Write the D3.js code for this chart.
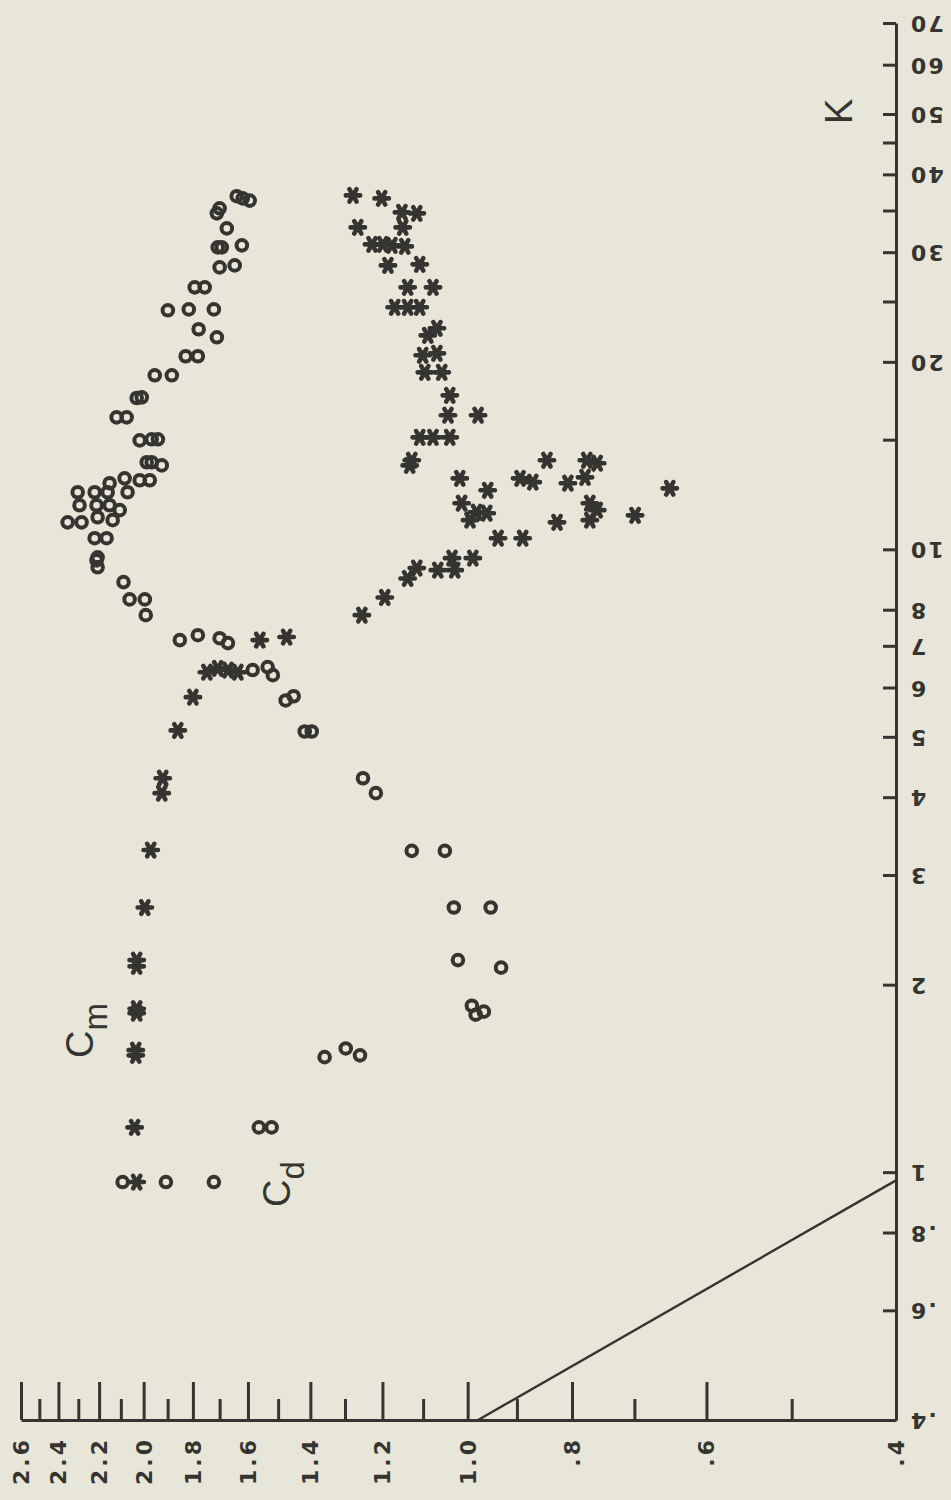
<!DOCTYPE html>
<html>
<head>
<meta charset="utf-8">
<script src="https://cdn.jsdelivr.net/npm/d3@7"></script>
<style>
  html, body { margin: 0; padding: 0; background: #e8e6d8; }
  svg { display: block; }
</style>
</head>
<body>
<svg id="chart" width="951" height="1500"></svg>
<script>
// Drag (Cd, circles) and inertia (Cm, asterisks) coefficients against K,
// log-log, drawn in landscape: K runs up the right edge, C runs along the bottom.

const cdK = [0.964, 0.964, 0.964, 1.18, 1.18, 1.53, 1.58, 1.54, 1.85, 1.81,
  1.79, 2.19, 2.13, 2.66, 2.66, 3.28, 3.28, 4.29, 4.06, 5.10,
  5.10, 5.72, 5.81, 6.40, 6.47, 6.28, 7.15, 7.28, 7.20, 7.07,
  7.84, 8.31, 8.31, 8.86, 9.36, 9.60, 9.71, 10.42, 10.42, 11.05,
  11.05, 11.26, 11.14, 11.77, 11.77, 11.77, 11.56, 12.35, 12.35, 12.35,
  12.77, 13.00, 12.35, 12.91, 12.91, 13.80, 13.80, 13.64, 14.96, 15.02,
  15.02, 16.29, 16.29, 17.54, 17.5, 19.03, 19.03, 20.42, 20.42, 21.90,
  22.56, 24.20, 24.28, 24.28, 26.34, 26.34, 28.36, 28.57, 30.54, 30.54,
  30.77, 32.76, 34.63, 35.28, 36.3, 36.60, 36.9];
const cdC = [2.092, 1.907, 1.721, 1.563, 1.521, 1.358, 1.298, 1.259, 0.991, 0.966,
  0.983, 1.021, 0.931, 1.030, 0.952, 1.127, 1.050, 1.251, 1.217, 1.417,
  1.396, 1.476, 1.451, 1.584, 1.534, 1.517, 1.851, 1.781, 1.700, 1.670,
  1.991, 2.061, 1.995, 2.088, 2.207, 2.212, 2.207, 2.221, 2.165, 2.353,
  2.284, 2.207, 2.137, 2.294, 2.212, 2.151, 2.105, 2.303, 2.221, 2.160,
  2.151, 2.083, 2.070, 2.017, 1.974, 1.987, 1.966, 1.924, 2.017, 1.966,
  1.940, 2.119, 2.074, 2.008, 2.030, 1.953, 1.883, 1.828, 1.781, 1.710,
  1.778, 1.899, 1.816, 1.721, 1.793, 1.755, 1.700, 1.646, 1.707, 1.692,
  1.621, 1.674, 1.710, 1.700, 1.594, 1.618, 1.639];

const cmK = [0.964, 1.18, 1.57, 1.54, 1.83, 1.80, 2.19, 2.14, 2.66, 3.29,
  4.29, 4.06, 5.12, 5.79, 6.35, 6.44, 6.40, 6.35, 7.15, 7.23,
  7.84, 8.37, 8.98, 9.33, 9.26, 9.68, 9.26, 9.68, 10.42, 10.42,
  11.86, 11.47, 11.43, 11.14, 11.05, 11.34, 12.53, 11.86, 11.56, 11.14,
  12.77, 13.05, 13.90, 13.75, 13.90, 13.00, 12.82, 13.00, 12.44, 13.90,
  13.64, 15.13, 15.13, 15.13, 17.67, 16.42, 16.42, 20.49, 20.64, 19.24,
  19.24, 22.64, 22.06, 24.47, 24.47, 24.47, 26.34, 26.34, 28.57, 28.68,
  30.88, 30.88, 30.77, 30.65, 32.88, 32.88, 34.76, 34.63, 37.01, 36.60];
const cmC = [2.030, 2.039, 2.034, 2.034, 2.030, 2.030, 2.030, 2.030, 1.995, 1.970,
  1.920, 1.924, 1.859, 1.800, 1.747, 1.707, 1.670, 1.635, 1.560, 1.473,
  1.254, 1.194, 1.137, 1.115, 1.066, 1.034, 1.028, 0.989, 0.937, 0.889,
  1.013, 0.981, 0.960, 0.995, 0.826, 0.699, 0.649, 0.770, 0.758, 0.770,
  0.807, 0.778, 0.775, 0.758, 0.844, 0.894, 0.870, 1.017, 0.958, 1.127,
  1.132, 1.108, 1.077, 1.039, 1.039, 1.043, 0.978, 1.101, 1.068, 1.096,
  1.057, 1.068, 1.089, 1.169, 1.137, 1.108, 1.137, 1.077, 1.186, 1.108,
  1.227, 1.199, 1.176, 1.144, 1.265, 1.149, 1.151, 1.115, 1.278, 1.202];

// straight reference line in the lower corner
const refK = [0.4, 0.97];
const refC = [0.978, 0.4];

const kTicks  = [0.4, 0.6, 0.8, 1, 2, 3, 4, 5, 6, 7, 8, 10, 15, 20, 25, 30, 35, 40, 45, 50, 60, 70];
const kLabels = [".4", ".6", ".8", "1", "2", "3", "4", "5", "6", "7", "8", "10", "", "20", "", "30", "", "40", "", "50", "60", "70"];

const cMajor = [0.4, 0.6, 0.8, 1.0, 1.2, 1.4, 1.6, 1.8, 2.0, 2.2, 2.4, 2.6];
const cMajorLabels = [".4", ".6", ".8", "1.0", "1.2", "1.4", "1.6", "1.8", "2.0", "2.2", "2.4", "2.6"];
const cMinor = [0.5, 0.7, 0.9, 1.1, 1.3, 1.5, 1.7, 1.9, 2.1, 2.3, 2.5];

const ink = "#353430";
const paper = "#e8e6d8";
const tickFont = "'DejaVu Sans', 'Liberation Sans', sans-serif";
const titleFont = "'Liberation Sans', 'DejaVu Sans', sans-serif";

const svg = d3.select("#chart");
svg.append("rect").attr("width", 951).attr("height", 1500).attr("fill", paper);

const xC = d3.scaleLog().domain([0.4, 2.6]).range([896, 21]);
const yK = d3.scaleLog().domain([0.4, 70]).range([1420, 23]);

// ---- K axis (right edge), ticks pointing into the plot, labels turned over
const kLabelOf = new Map(kTicks.map((v, i) => [v, kLabels[i]]));
const kAxis = d3.axisLeft(yK)
  .tickValues(kTicks)
  .tickSize(13)
  .tickSizeOuter(0)
  .tickFormat(d => kLabelOf.get(d));

const kG = svg.append("g")
  .attr("transform", "translate(896,0)")
  .call(kAxis)
  .attr("font-family", tickFont)
  .attr("font-size", 22)
  .attr("font-weight", "bold");
kG.select(".domain").attr("stroke", ink).attr("stroke-width", 3);
kG.selectAll(".tick line").attr("stroke", ink).attr("stroke-width", 3);
kG.selectAll(".tick text")
  .attr("x", null).attr("dy", null)
  .attr("transform", "translate(13,0) rotate(180)")
  .attr("text-anchor", "end")
  .attr("dominant-baseline", "central")
  .attr("letter-spacing", 2)
  .attr("fill", ink);

// ---- C axis (bottom edge), long major ticks and short minor ticks upward
const cLabelOf = new Map(cMajor.map((v, i) => [v, cMajorLabels[i]]));
const cMajorAxis = d3.axisTop(xC)
  .tickValues(cMajor)
  .tickSize(38)
  .tickSizeOuter(0)
  .tickFormat(d => cLabelOf.get(d));

const cG = svg.append("g")
  .attr("transform", "translate(0,1420)")
  .call(cMajorAxis)
  .attr("font-family", tickFont)
  .attr("font-size", 22)
  .attr("font-weight", "bold");
cG.select(".domain").attr("stroke", ink).attr("stroke-width", 3);
cG.selectAll(".tick line").attr("stroke", ink).attr("stroke-width", 3);
cG.selectAll(".tick text")
  .attr("y", null).attr("dy", null)
  .attr("transform", "translate(0,17) rotate(-90)")
  .attr("text-anchor", "end")
  .attr("dominant-baseline", "central")
  .attr("letter-spacing", 3)
  .attr("fill", ink);

const cMinorAxis = d3.axisTop(xC)
  .tickValues(cMinor)
  .tickSize(21)
  .tickSizeOuter(0)
  .tickFormat(() => "");
const cmG = svg.append("g")
  .attr("transform", "translate(0,1420)")
  .call(cMinorAxis);
cmG.select(".domain").remove();
cmG.selectAll(".tick line").attr("stroke", ink).attr("stroke-width", 3);

// ---- reference line
const refLine = d3.line().x(d => xC(d[1])).y(d => yK(d[0]));
svg.append("path")
  .datum(d3.zip(refK, refC))
  .attr("d", refLine)
  .attr("fill", "none")
  .attr("stroke", ink)
  .attr("stroke-width", 2.4);

// ---- Cd: open circles
svg.append("g")
  .selectAll("circle")
  .data(d3.zip(cdK, cdC))
  .join("circle")
  .attr("cx", d => xC(d[1]))
  .attr("cy", d => yK(d[0]))
  .attr("r", 5.3)
  .attr("fill", "none")
  .attr("stroke", ink)
  .attr("stroke-width", 4);

// ---- Cm: six-armed asterisks
const h = 7.2, s = h * 0.5, t = h * 0.866;
const star = `M${-h},0L${h},0M${-s},${-t}L${s},${t}M${-s},${t}L${s},${-t}`;
svg.append("g")
  .selectAll("path")
  .data(d3.zip(cmK, cmC))
  .join("path")
  .attr("transform", d => `translate(${xC(d[1])},${yK(d[0])})`)
  .attr("d", star)
  .attr("fill", "none")
  .attr("stroke", ink)
  .attr("stroke-width", 4.6)
  .attr("stroke-linecap", "round");

// ---- titles
function subscripted(x, y, main, sub) {
  const t = svg.append("text")
    .attr("transform", `translate(${x},${y}) rotate(-90)`)
    .attr("font-family", titleFont)
    .attr("font-size", 38)
    .attr("fill", ink);
  t.append("tspan").text(main);
  t.append("tspan").attr("dy", 14).attr("font-size", 33).text(sub);
}
subscripted(93, 1058, "C", "m");
subscripted(290, 1207, "C", "d");

svg.append("text")
  .attr("transform", "translate(852,124) rotate(-90)")
  .attr("font-family", titleFont)
  .attr("font-size", 38)
  .attr("fill", ink)
  .text("K");
</script>
</body>
</html>
